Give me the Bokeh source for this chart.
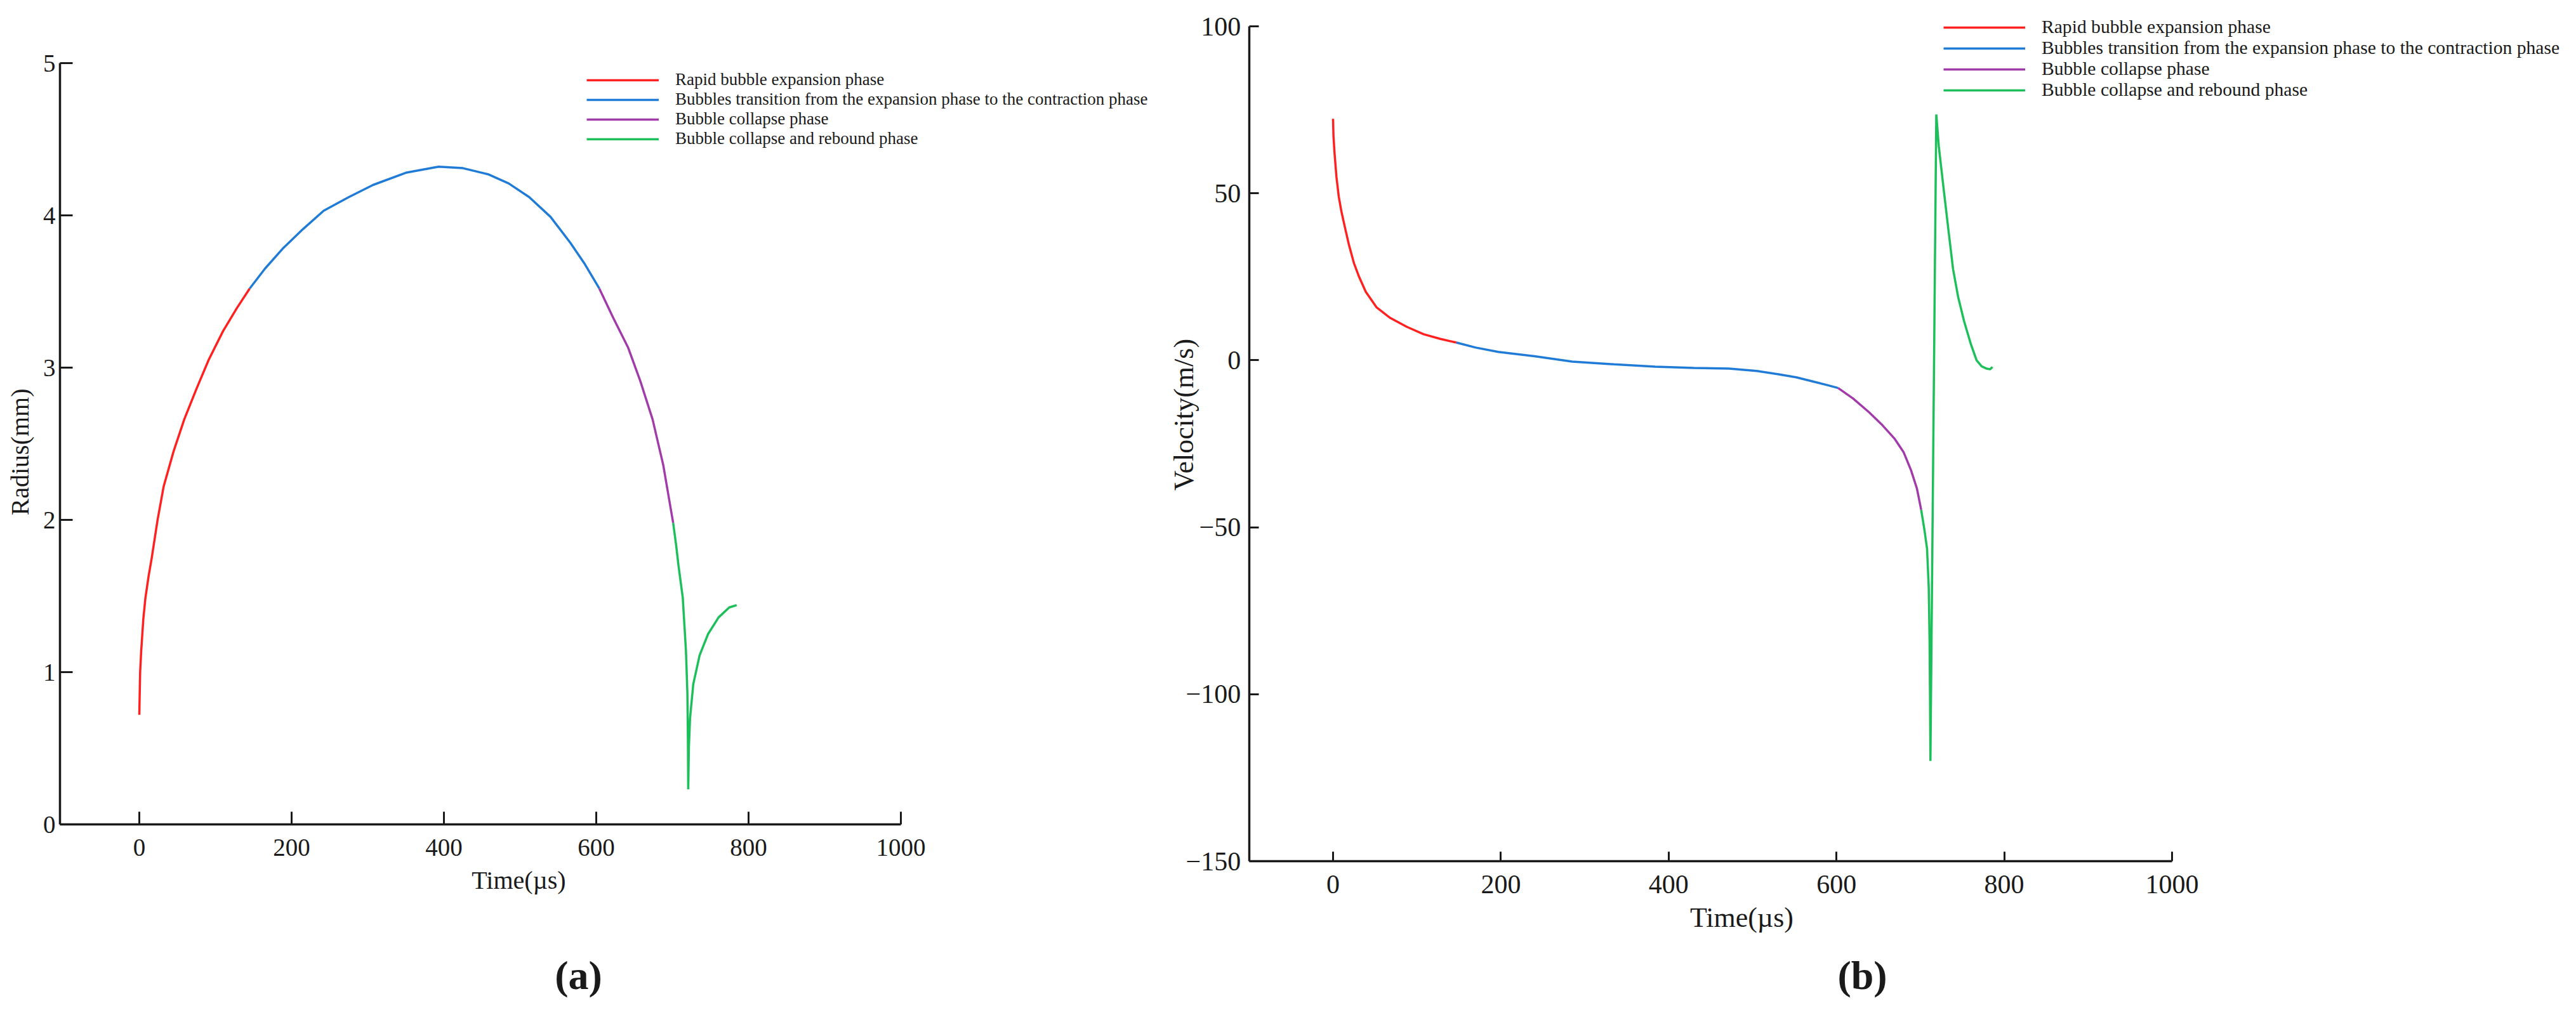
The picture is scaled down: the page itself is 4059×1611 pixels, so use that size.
import math
from bokeh.plotting import figure
from bokeh.models import Legend, LegendItem, Label, FixedTicker, Range1d
from bokeh.core.properties import value
from bokeh.layouts import row
from bokeh.embed import file_html
from bokeh.resources import INLINE

# ---------------- data: (a) radius ----------------
r_exp_t = [0, 1.1, 2.5, 5.3, 8.1, 12.2, 16, 24, 32, 45, 59, 75, 91, 110, 128, 145]
r_exp_v = [0.72, 1.00, 1.14, 1.35, 1.49, 1.63, 1.74, 2.00, 2.22, 2.45, 2.66, 2.86, 3.05, 3.24, 3.39, 3.52]
r_tr_t = [145, 165, 188, 215, 242, 275, 307, 350, 393, 425, 458, 485, 512, 540, 566, 585, 604]
r_tr_v = [3.52, 3.65, 3.78, 3.91, 4.03, 4.12, 4.20, 4.28, 4.32, 4.31, 4.27, 4.21, 4.12, 3.99, 3.82, 3.68, 3.52]
r_col_t = [604, 622, 642, 658, 674, 688, 701]
r_col_v = [3.52, 3.33, 3.13, 2.91, 2.66, 2.36, 1.98]
r_reb_t = [701, 705, 708, 713.6, 717.8, 719.7, 720.4, 720.8, 721.6, 723.2, 727.4, 735.7, 746.8, 760.7, 774.7, 784.4]
r_reb_v = [1.98, 1.83, 1.70, 1.49, 1.14, 0.86, 0.55, 0.23, 0.50, 0.70, 0.92, 1.11, 1.25, 1.36, 1.425, 1.44]

# ---------------- data: (b) velocity ----------------
v_exp_t = [0, 0.5, 1.8, 4, 6.8, 10, 14.4, 19, 25, 31, 39, 52, 68, 88, 108, 128, 147]
v_exp_v = [72.3, 67, 62, 55, 49, 44.5, 39.5, 34.5, 29, 25, 20.5, 15.8, 12.7, 10, 7.8, 6.4, 5.3]
v_tr_t = [147, 170, 197, 240, 285, 335, 384, 430, 472, 505, 531, 552, 571, 590, 602]
v_tr_v = [5.3, 3.8, 2.5, 1.2, -0.4, -1.2, -1.9, -2.3, -2.5, -3.2, -4.2, -5.1, -6.3, -7.5, -8.3]
v_col_t = [602, 620, 639, 655, 669, 680, 689, 696, 701]
v_col_v = [-8.3, -11.5, -15.6, -19.5, -23.4, -27.5, -33, -38.5, -44.8]
v_reb_t = [701, 705, 708, 710, 711, 711.5, 712, 719, 722, 728, 733, 739, 745, 752, 760, 767, 773, 779, 783, 786]
v_reb_v = [-44.8, -51, -56.5, -68, -84, -100, -120, 73.6, 64, 50.8, 40, 27.3, 19, 11.8, 5, 0, -1.8, -2.5, -2.7, -2.0]

phase_labels = [
    "Rapid bubble expansion phase",
    "Bubbles transition from the expansion phase to the contraction phase",
    "Bubble collapse phase",
    "Bubble collapse and rebound phase",
]
phase_colors = ["#FF2020", "#1F7BD6", "#A23BAA", "#1CBF5A"]

time_ticks = [0, 200, 400, 600, 800, 1000]
radius_ticks = [0, 1, 2, 3, 4, 5]
velocity_ticks = [-150, -100, -50, 0, 50, 100]

FONT = "Liberation Serif"
INK = "#1a1a1a"
H = 1593


def base_fig(W, xr, yr):
    p = figure(width=W, height=H, output_backend="svg", toolbar_location=None,
               x_range=Range1d(*xr), y_range=Range1d(*yr),
               min_border_left=2, min_border_right=0, min_border_top=0,
               min_border_bottom=2, background_fill_color="white",
               border_fill_color="white")
    p.xgrid.visible = False
    p.ygrid.visible = False
    p.outline_line_color = None
    return p


def style_axes(p, tick_len, xloc, yloc, xb, yb, xt, yt):
    ax_x, ax_y = p.xaxis[0], p.yaxis[0]
    for ax in (ax_x, ax_y):
        ax.axis_line_width = 3.5
        ax.axis_line_color = INK
        ax.major_tick_line_width = 3
        ax.major_tick_line_color = INK
        ax.major_tick_in = tick_len
        ax.major_tick_out = 0
        ax.minor_tick_line_color = None
        # tick labels are drawn as text glyphs below; the axis' own are switched off
        ax.major_label_text_font_size = "1px"
        ax.major_label_text_color = None
        ax.major_label_text_alpha = 0
        ax.major_label_standoff = 0
    ax_x.fixed_location = xloc
    ax_y.fixed_location = yloc
    ax_x.bounds = xb
    ax_y.bounds = yb
    ax_x.ticker = FixedTicker(ticks=xt)
    ax_y.ticker = FixedTicker(ticks=yt)


def tick_texts(p, xs, ys, texts, size, align, baseline, xo, yo):
    p.text(x=xs, y=ys, text=texts, text_font=value(FONT), text_font_size=value(size),
           text_align=align, text_baseline=baseline, x_offset=xo, y_offset=yo,
           text_color=INK)


def label(p, x, y, text, size, angle=0.0, bold=False, baseline="middle"):
    p.add_layout(Label(x=x, y=y, text=text, angle=angle, text_font=FONT,
                       text_font_size=size, text_align="center",
                       text_baseline=baseline, text_color=INK,
                       text_font_style="bold" if bold else "normal"))


def make_legend(p, rends, loc, gw, size):
    items = [LegendItem(label=l, renderers=[r]) for l, r in zip(phase_labels, rends)]
    lg = Legend(items=items, location=loc, glyph_width=gw, glyph_height=20,
                label_height=20, label_standoff=26, spacing=0, padding=0,
                margin=0, border_line_alpha=0, background_fill_alpha=0,
                label_text_font=FONT, label_text_font_size=size,
                label_text_color=INK)
    p.add_layout(lg)


# ---------------- panel (a) ----------------
# frame: page x 10..1830, y 8..1599 ; 0us at x=227, 1.2 px/us ; R=0 at y=1307, 240 px/mm
W1 = 1822
p1 = base_fig(W1, ((10 - 227) / 1.2, (1830 - 227) / 1.2), ((1307 - 1599) / 240.0, (1307 - 8) / 240.0))
xa0 = -104.17
style_axes(p1, 20, 0, xa0, (xa0, 1000), (0, 5), time_ticks, radius_ticks)

rends1 = []
for (tt, vv), c in zip([(r_exp_t, r_exp_v), (r_tr_t, r_tr_v), (r_col_t, r_col_v), (r_reb_t, r_reb_v)], phase_colors):
    rends1.append(p1.line(tt, vv, line_color=c, line_width=3.5))
make_legend(p1, rends1, (922, 1357), 114, "27px")

tick_texts(p1, time_ticks, [0] * len(time_ticks), [str(t) for t in time_ticks],
           "39px", "center", "alphabetic", 0, 36)
tick_texts(p1, [xa0] * len(radius_ticks), radius_ticks, [str(t) for t in radius_ticks],
           "39px", "right", "middle", -7, 0)

label(p1, -156.67, 2.446, "Radius(mm)", "40px", angle=math.pi / 2)
label(p1, 498.3, -0.367, "Time(µs)", "40px", baseline="alphabetic")
label(p1, 576.7, -0.99, "(a)", "64px", bold=True)

# ---------------- panel (b) ----------------
# frame: page x 1832..4051, y 8..1599 ; 0us at x=2108, 1.322 px/us ; V=0 at y=575.4, 5.264 px/(m/s)
W2 = 2221
sx2, sy2, x0p, y0p = 1.322, 5.264, 2108.0, 575.4
p2 = base_fig(W2, ((1832 - x0p) / sx2, (4051 - x0p) / sx2), ((y0p - 1599) / sy2, (y0p - 8) / sy2))
style_axes(p2, 15, -150, -100, (-100, 1000), (-150, 100), time_ticks, velocity_ticks)

rends2 = []
for (tt, vv), c in zip([(v_exp_t, v_exp_v), (v_tr_t, v_tr_v), (v_col_t, v_col_v), (v_reb_t, v_reb_v)], phase_colors):
    rends2.append(p2.line(tt, vv, line_color=c, line_width=3.5))
make_legend(p2, rends2, (1238, 1433), 129, "29.6px")

tick_texts(p2, time_ticks, [-150] * len(time_ticks), [str(t) for t in time_ticks],
           "42px", "center", "alphabetic", 0, 36)
tick_texts(p2, [-100] * len(velocity_ticks), velocity_ticks,
           [str(t).replace("-", "\u2212") for t in velocity_ticks],
           "42px", "right", "middle", -13, 0)

label(p2, -177.8, -16.3, "Velocity(m/s)", "44px", angle=math.pi / 2)
label(p2, 487.1, -166.9, "Time(µs)", "44px", baseline="alphabetic")
label(p2, 630.9, -184.2, "(b)", "64px", bold=True)

layout = row(p1, p2)
open("out.html", "w").write(file_html(layout, INLINE))
